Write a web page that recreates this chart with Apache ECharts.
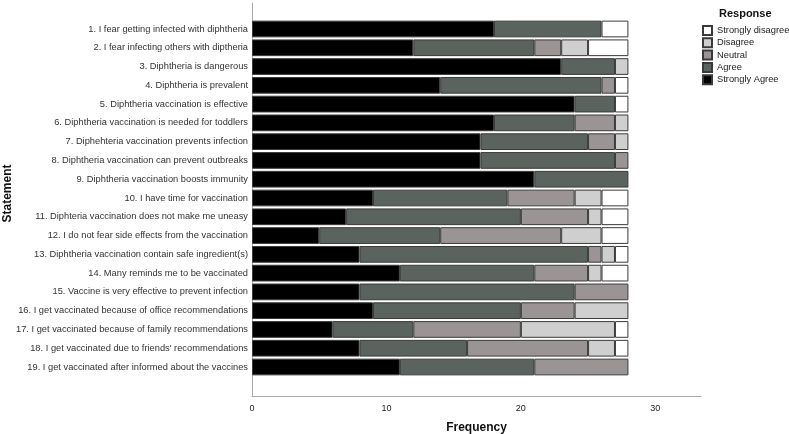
<!DOCTYPE html>
<html>
<head>
<meta charset="utf-8">
<script src="https://cdn.jsdelivr.net/npm/echarts@6/dist/echarts.min.js"></script>
<style>html,body{margin:0;padding:0;background:#fff}#c{width:789px;height:434px}</style>
</head>
<body>
<div id="c"></div>
<script>
const statements = [
  "1. I fear getting infected with diphtheria",
  "2. I fear infecting others with diptheria",
  "3. Diphtheria is dangerous",
  "4. Diphtheria is prevalent",
  "5. Diphtheria vaccination is effective",
  "6. Diphtheria vaccination is needed for toddlers",
  "7. Diphehteria vaccination prevents infection",
  "8. Diphtheria vaccination can prevent outbreaks",
  "9. Diphtheria vaccination boosts immunity",
  "10. I have time for vaccination",
  "11. Diphteria vaccination does not make me uneasy",
  "12. I do not fear side effects from the vaccination",
  "13. Diphtheria vaccination contain safe ingredient(s)",
  "14. Many reminds me to be vaccinated",
  "15. Vaccine is very effective to prevent infection",
  "16. I get vaccinated because of office recommendations",
  "17. I get vaccinated because of family recommendations",
  "18. I get vaccinated due to friends' recommendations",
  "19. I get vaccinated after informed about the vaccines"
];
const stronglyAgree    = [18,12,23,14,24,18,17,17,21, 9, 7, 5, 8,11, 8, 9, 6, 8,11];
const agree            = [ 8, 9, 4,12, 3, 6, 8,10, 7,10,13, 9,17,10,16,11, 6, 8,10];
const neutral          = [ 0, 2, 0, 1, 0, 3, 2, 1, 0, 5, 5, 9, 1, 4, 4, 4, 8, 9, 7];
const disagree         = [ 0, 2, 1, 0, 0, 1, 1, 0, 0, 2, 1, 3, 1, 1, 0, 4, 7, 2, 0];
const stronglyDisagree = [ 2, 3, 0, 1, 1, 0, 0, 0, 0, 2, 2, 2, 1, 2, 0, 0, 1, 1, 0];
const xTicks = [0, 10, 20, 30];
const xMax = 33.4;

const FONT = "'Liberation Sans', Arial, sans-serif";
const responses = [
  {name: "Strongly Agree", data: stronglyAgree, color: "#000000"},
  {name: "Agree", data: agree, color: "#5a635d"},
  {name: "Neutral", data: neutral, color: "#9a9494"},
  {name: "Disagree", data: disagree, color: "#cfcfcf"},
  {name: "Strongly disagree", data: stronglyDisagree, color: "#ffffff"}
];

const chart = echarts.init(document.getElementById('c'), null, {renderer: 'canvas'});
const axisColor = '#a9a9a9';
chart.setOption({
  animation: false,
  textStyle: {fontFamily: FONT},
  title: {
    text: 'Response', left: 719, top: 6, padding: [2, 0, 2, 0],
    textStyle: {fontSize: 11, fontWeight: 'bold', color: '#111', fontFamily: FONT}
  },
  legend: {
    orient: 'vertical', left: 702, top: 25,
    itemWidth: 9, itemHeight: 9, itemGap: 1.3,
    icon: 'rect',
    padding: 0,
    data: ["Strongly disagree", "Disagree", "Neutral", "Agree", "Strongly Agree"],
    textStyle: {fontSize: 9.3, lineHeight: 9, color: '#222', fontFamily: FONT}
  },
  grid: [
    {left: 252, right: 88, top: 19.6, height: 356.8, containLabel: false, outerBoundsMode: 'none'},
    {left: 252, right: 88, top: 3, bottom: 38, containLabel: false, outerBoundsMode: 'none'}
  ],
  xAxis: [
    {type: 'value', gridIndex: 0, min: 0, max: xMax, interval: 10, show: false},
    {type: 'value', gridIndex: 1, min: 0, max: xMax, interval: 10,
     axisLine: {show: true, lineStyle: {color: axisColor, width: 1}},
     axisTick: {show: false}, splitLine: {show: false},
     axisLabel: {fontSize: 9, color: '#222', margin: 8, showMaxLabel: false,
       formatter: v => xTicks.includes(v) ? String(v) : ''},
     name: 'Frequency', nameLocation: 'middle', nameGap: 26,
     nameTextStyle: {fontSize: 12, fontWeight: 'bold', color: '#111', fontFamily: FONT}}
  ],
  yAxis: [
    {type: 'category', gridIndex: 0, data: statements, inverse: true,
     axisLine: {show: false}, axisTick: {show: false},
     axisLabel: {fontSize: 9.3, color: '#333', margin: 4, fontFamily: FONT}},
    {type: 'value', gridIndex: 1, min: 0, max: 1,
     axisLine: {show: true, lineStyle: {color: axisColor, width: 1}},
     axisTick: {show: false}, axisLabel: {show: false}, splitLine: {show: false},
     name: 'Statement', nameLocation: 'middle', nameRotate: 90, nameGap: 238,
     nameTextStyle: {fontSize: 12, fontWeight: 'bold', color: '#111', fontFamily: FONT, padding: [0, 0, 0, 12]}}
  ],
  series: responses.map(r => ({
    name: r.name, type: 'bar', stack: 'total', xAxisIndex: 0, yAxisIndex: 0,
    barCategoryGap: '11%',
    itemStyle: {color: r.color, borderColor: '#3a3a3a', borderWidth: 1},
    emphasis: {disabled: true},
    data: r.data.map(v => v === 0 ? '-' : v)
  }))
});
</script>
</body>
</html>
